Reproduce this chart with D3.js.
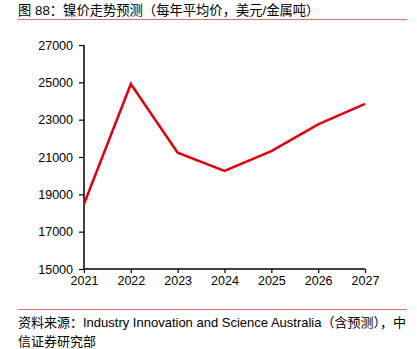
<!DOCTYPE html>
<html><head><meta charset="utf-8">
<script src="https://cdn.jsdelivr.net/npm/d3@7"></script>
<style>body{margin:0;background:#fff}svg{display:block}</style>
</head><body>
<script>
const years = ["2021","2022","2023","2024","2025","2026","2027"];
const prices = [18480, 24910, 21230, 20250, 21320, 22750, 23850];
const yTicks = [15000,17000,19000,21000,23000,25000,27000];
const titleText = "图 88：镍价走势预测（每年平均价，美元/金属吨）";
const sourceLines = ["资料来源：Industry Innovation and Science Australia（含预测），中","信证券研究部"];

const W=417,H=349;
const font = "Arial, 'Liberation Sans', 'Noto Sans CJK SC', sans-serif";
const svg=d3.select("body").append("svg").attr("width",W).attr("height",H);

svg.append("text").attr("x",18).attr("y",15).attr("font-family",font).attr("font-size",13.3).attr("fill","#000").text(titleText);
svg.append("line").attr("x1",18).attr("x2",407).attr("y1",19.5).attr("y2",19.5).attr("stroke","#e06b6b").attr("stroke-width",1.2);
svg.append("line").attr("x1",18).attr("x2",407).attr("y1",309.5).attr("y2",309.5).attr("stroke","#e06b6b").attr("stroke-width",1.2);
sourceLines.forEach((t,i)=>svg.append("text").attr("x",18).attr("y",327+i*19).attr("font-family",font).attr("font-size",13).attr("fill","#000").text(t));

const x=d3.scalePoint().domain(years).range([84,365]);
const y=d3.scaleLinear().domain([15000,27000]).range([269,45]);

const gy=svg.append("g").attr("transform","translate(84,0)").call(d3.axisLeft(y).tickValues(yTicks).tickSize(5).tickPadding(6).tickFormat(d3.format("d")));
const gx=svg.append("g").attr("transform","translate(0,269)").call(d3.axisBottom(x).tickSize(4).tickPadding(3));
[gx,gy].forEach(g=>{g.select(".domain").attr("stroke","#000").attr("stroke-width",1.5);
 g.selectAll(".tick line").attr("stroke","#000").attr("stroke-width",1.2);
 g.selectAll("text").attr("font-family",font).attr("font-size",12.5).attr("fill","#000");});
gy.select(".domain").attr("d","M-0,45V269");
gx.select(".domain").attr("d","M84,0H365");

svg.append("path").datum(prices.map((v,i)=>[years[i],v]))
 .attr("fill","none").attr("stroke","#e0000f").attr("stroke-width",2.5).attr("stroke-linejoin","miter")
 .attr("d",d3.line().x(d=>x(d[0])).y(d=>y(d[1])));
</script>
</body></html>
